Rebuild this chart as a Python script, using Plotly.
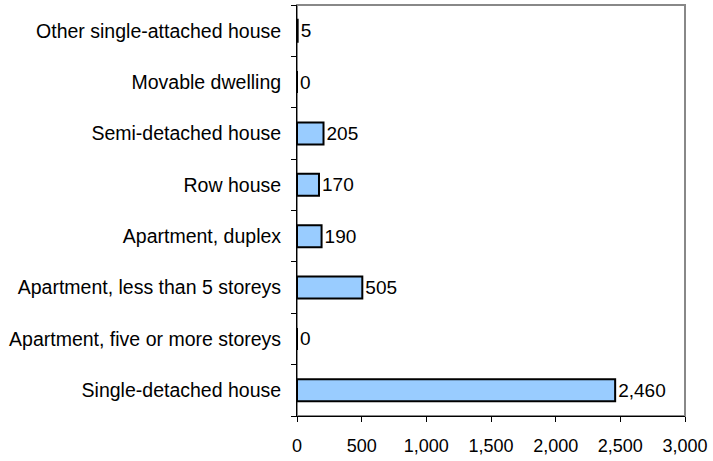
import plotly.graph_objects as go

categories = ["Single-detached house", "Apartment, five or more storeys",
              "Apartment, less than 5 storeys", "Apartment, duplex", "Row house",
              "Semi-detached house", "Movable dwelling", "Other single-attached house"]
values = [2460, 0, 505, 190, 170, 205, 0, 5]
x_ticks = [0, 500, 1000, 1500, 2000, 2500, 3000]
x_tick_labels = ["0", "500", "1,000", "1,500", "2,000", "2,500", "3,000"]

fam = "Liberation Sans, Arial, sans-serif"
font_y = dict(family=fam, size=19.5, color="black")
font_x = dict(family=fam, size=18, color="black")

fig = go.Figure(go.Bar(
    x=values, y=categories, orientation="h",
    marker=dict(color="#99CCFF", line=dict(color="black", width=2)),
    text=[f"{v:,}" for v in values], textposition="outside",
    textfont=dict(family=fam, size=19, color="black"), cliponaxis=False, width=0.43,
))

fig.update_layout(
    width=713, height=461,
    margin=dict(l=297, r=26, t=5, b=44),
    paper_bgcolor="white", plot_bgcolor="white",
    font=font_y, showlegend=False,
    shapes=[dict(type="rect", xref="paper", yref="paper", x0=0, x1=1, y0=0, y1=1,
                 line=dict(color="#888888", width=2), layer="below")],
)
fig.update_xaxes(range=[0, 3000], tickvals=x_ticks, ticktext=x_tick_labels,
                 showgrid=False, zeroline=False, showline=True, linecolor="black",
                 linewidth=1, ticks="outside", ticklen=5, tickcolor="black",
                 ticklabelstandoff=8, tickfont=font_x)
fig.update_yaxes(categoryorder="array", categoryarray=categories,
                 showgrid=False, showline=True, linecolor="black", linewidth=1,
                 ticks="outside", ticklen=5, tickcolor="black", tickson="boundaries",
                 ticklabelstandoff=11, tickfont=font_y)

fig.write_html("out.html", config={"displayModeBar": False},
               post_script="document.body.style.margin='0';")
